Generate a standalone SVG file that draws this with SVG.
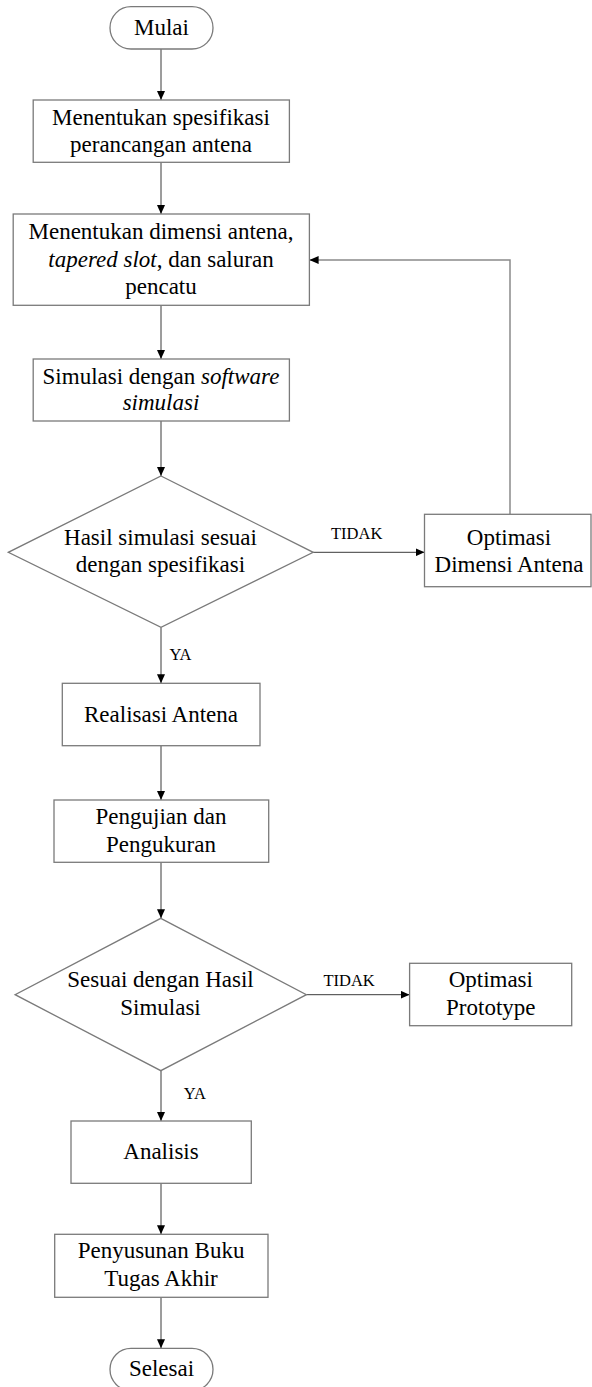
<svg xmlns="http://www.w3.org/2000/svg" width="592" height="1387" viewBox="0 0 592 1387">
<style>
.box{fill:#fff;stroke:#7a7a7a;stroke-width:1.3}
.t{font-family:'Liberation Serif',serif;font-size:23px;fill:#000;text-anchor:middle}
.lbl{font-family:'Liberation Serif',serif;font-size:16.5px;fill:#000}
.i{font-style:italic}
.c{fill:none;stroke:#3a3a3a;stroke-width:1}
.fb{fill:none;stroke:#8a8a8a;stroke-width:1.5}
</style>
<defs>
<marker id="ah" markerUnits="userSpaceOnUse" markerWidth="9" markerHeight="8" refX="9" refY="4" orient="auto">
<path d="M0,0 L9,4 L0,8 z" fill="#000"/>
</marker>
</defs>
<rect width="592" height="1387" fill="#fff"/>
<g id="connectors">
<line class="c" x1="161" y1="49" x2="161" y2="100" marker-end="url(#ah)"/>
<line class="c" x1="161" y1="162.3" x2="161" y2="214" marker-end="url(#ah)"/>
<line class="c" x1="161" y1="305.3" x2="161" y2="359" marker-end="url(#ah)"/>
<line class="c" x1="161" y1="421" x2="161" y2="476" marker-end="url(#ah)"/>
<line class="c" x1="161" y1="627.3" x2="161" y2="683.3" marker-end="url(#ah)"/>
<line class="c" x1="313.2" y1="552.3" x2="424.5" y2="552.3" marker-end="url(#ah)"/>
<path class="fb" d="M510,514.3 V260 H309.6" marker-end="url(#ah)"/>
<line class="c" x1="161" y1="745.7" x2="161" y2="800" marker-end="url(#ah)"/>
<line class="c" x1="161" y1="862.3" x2="161" y2="918.3" marker-end="url(#ah)"/>
<line class="c" x1="306.4" y1="994.7" x2="409.6" y2="994.7" marker-end="url(#ah)"/>
<line class="c" x1="161" y1="1070.7" x2="161" y2="1121" marker-end="url(#ah)"/>
<line class="c" x1="161" y1="1183.3" x2="161" y2="1234.3" marker-end="url(#ah)"/>
<line class="c" x1="161" y1="1297.3" x2="161" y2="1348.3" marker-end="url(#ah)"/>
<text class="lbl" x="331" y="539.3">TIDAK</text>
<text class="lbl" x="169.5" y="659.5">YA</text>
<text class="lbl" x="323.4" y="985.7">TIDAK</text>
<text class="lbl" x="183.8" y="1099.3">YA</text>
</g>
<g id="mulai">
<rect class="box" x="110" y="6.7" width="103" height="42.3" rx="21" ry="21"/>
<text class="t" x="161.5" y="35">Mulai</text>
</g>
<g id="spesifikasi">
<rect class="box" x="33.2" y="100" width="256.2" height="62.3"/>
<text class="t" x="161" y="125">Menentukan spesifikasi</text>
<text class="t" x="161" y="152.3">perancangan antena</text>
</g>
<g id="dimensi">
<rect class="box" x="13.2" y="214" width="296.2" height="91.3"/>
<text class="t" x="161" y="239">Menentukan dimensi antena,</text>
<text class="t" x="161" y="266.7"><tspan class="i">tapered slot</tspan>, dan saluran</text>
<text class="t" x="161" y="294.3">pencatu</text>
</g>
<g id="simulasi">
<rect class="box" x="33.2" y="359" width="256.2" height="62"/>
<text class="t" x="161" y="384">Simulasi dengan <tspan class="i">software</tspan></text>
<text class="t i" x="161" y="410">simulasi</text>
</g>
<g id="cek-simulasi">
<polygon class="box" points="161,476 313.2,552.3 161,627.3 8.3,552.3"/>
<text class="t" x="160.5" y="545">Hasil simulasi sesuai</text>
<text class="t" x="160.5" y="572.3">dengan spesifikasi</text>
</g>
<g id="optimasi-dimensi">
<rect class="box" x="424.5" y="514.3" width="166.5" height="72.4"/>
<text class="t" x="509" y="545">Optimasi</text>
<text class="t" x="509" y="571.7">Dimensi Antena</text>
</g>
<g id="realisasi">
<rect class="box" x="62.3" y="683.3" width="197.7" height="62.4"/>
<text class="t" x="161" y="721.7">Realisasi Antena</text>
</g>
<g id="pengujian">
<rect class="box" x="54" y="800" width="214.7" height="62.3"/>
<text class="t" x="161" y="824">Pengujian dan</text>
<text class="t" x="161" y="851.7">Pengukuran</text>
</g>
<g id="cek-hasil">
<polygon class="box" points="160.8,918.3 306.4,994.7 160.8,1070.7 15.1,994.7"/>
<text class="t" x="160.5" y="986.7">Sesuai dengan Hasil</text>
<text class="t" x="160.5" y="1015">Simulasi</text>
</g>
<g id="optimasi-prototype">
<rect class="box" x="409.6" y="963.3" width="162.1" height="62.4"/>
<text class="t" x="490.8" y="986.7">Optimasi</text>
<text class="t" x="490.8" y="1015">Prototype</text>
</g>
<g id="analisis">
<rect class="box" x="71" y="1121" width="180.3" height="62.3"/>
<text class="t" x="161" y="1159">Analisis</text>
</g>
<g id="penyusunan">
<rect class="box" x="54.7" y="1234.3" width="213.3" height="63"/>
<text class="t" x="161" y="1258.3">Penyusunan Buku</text>
<text class="t" x="161" y="1286">Tugas Akhir</text>
</g>
<g id="selesai">
<rect class="box" x="110" y="1348.3" width="103" height="42.3" rx="21" ry="21"/>
<text class="t" x="161.5" y="1376">Selesai</text>
</g>
</svg>
